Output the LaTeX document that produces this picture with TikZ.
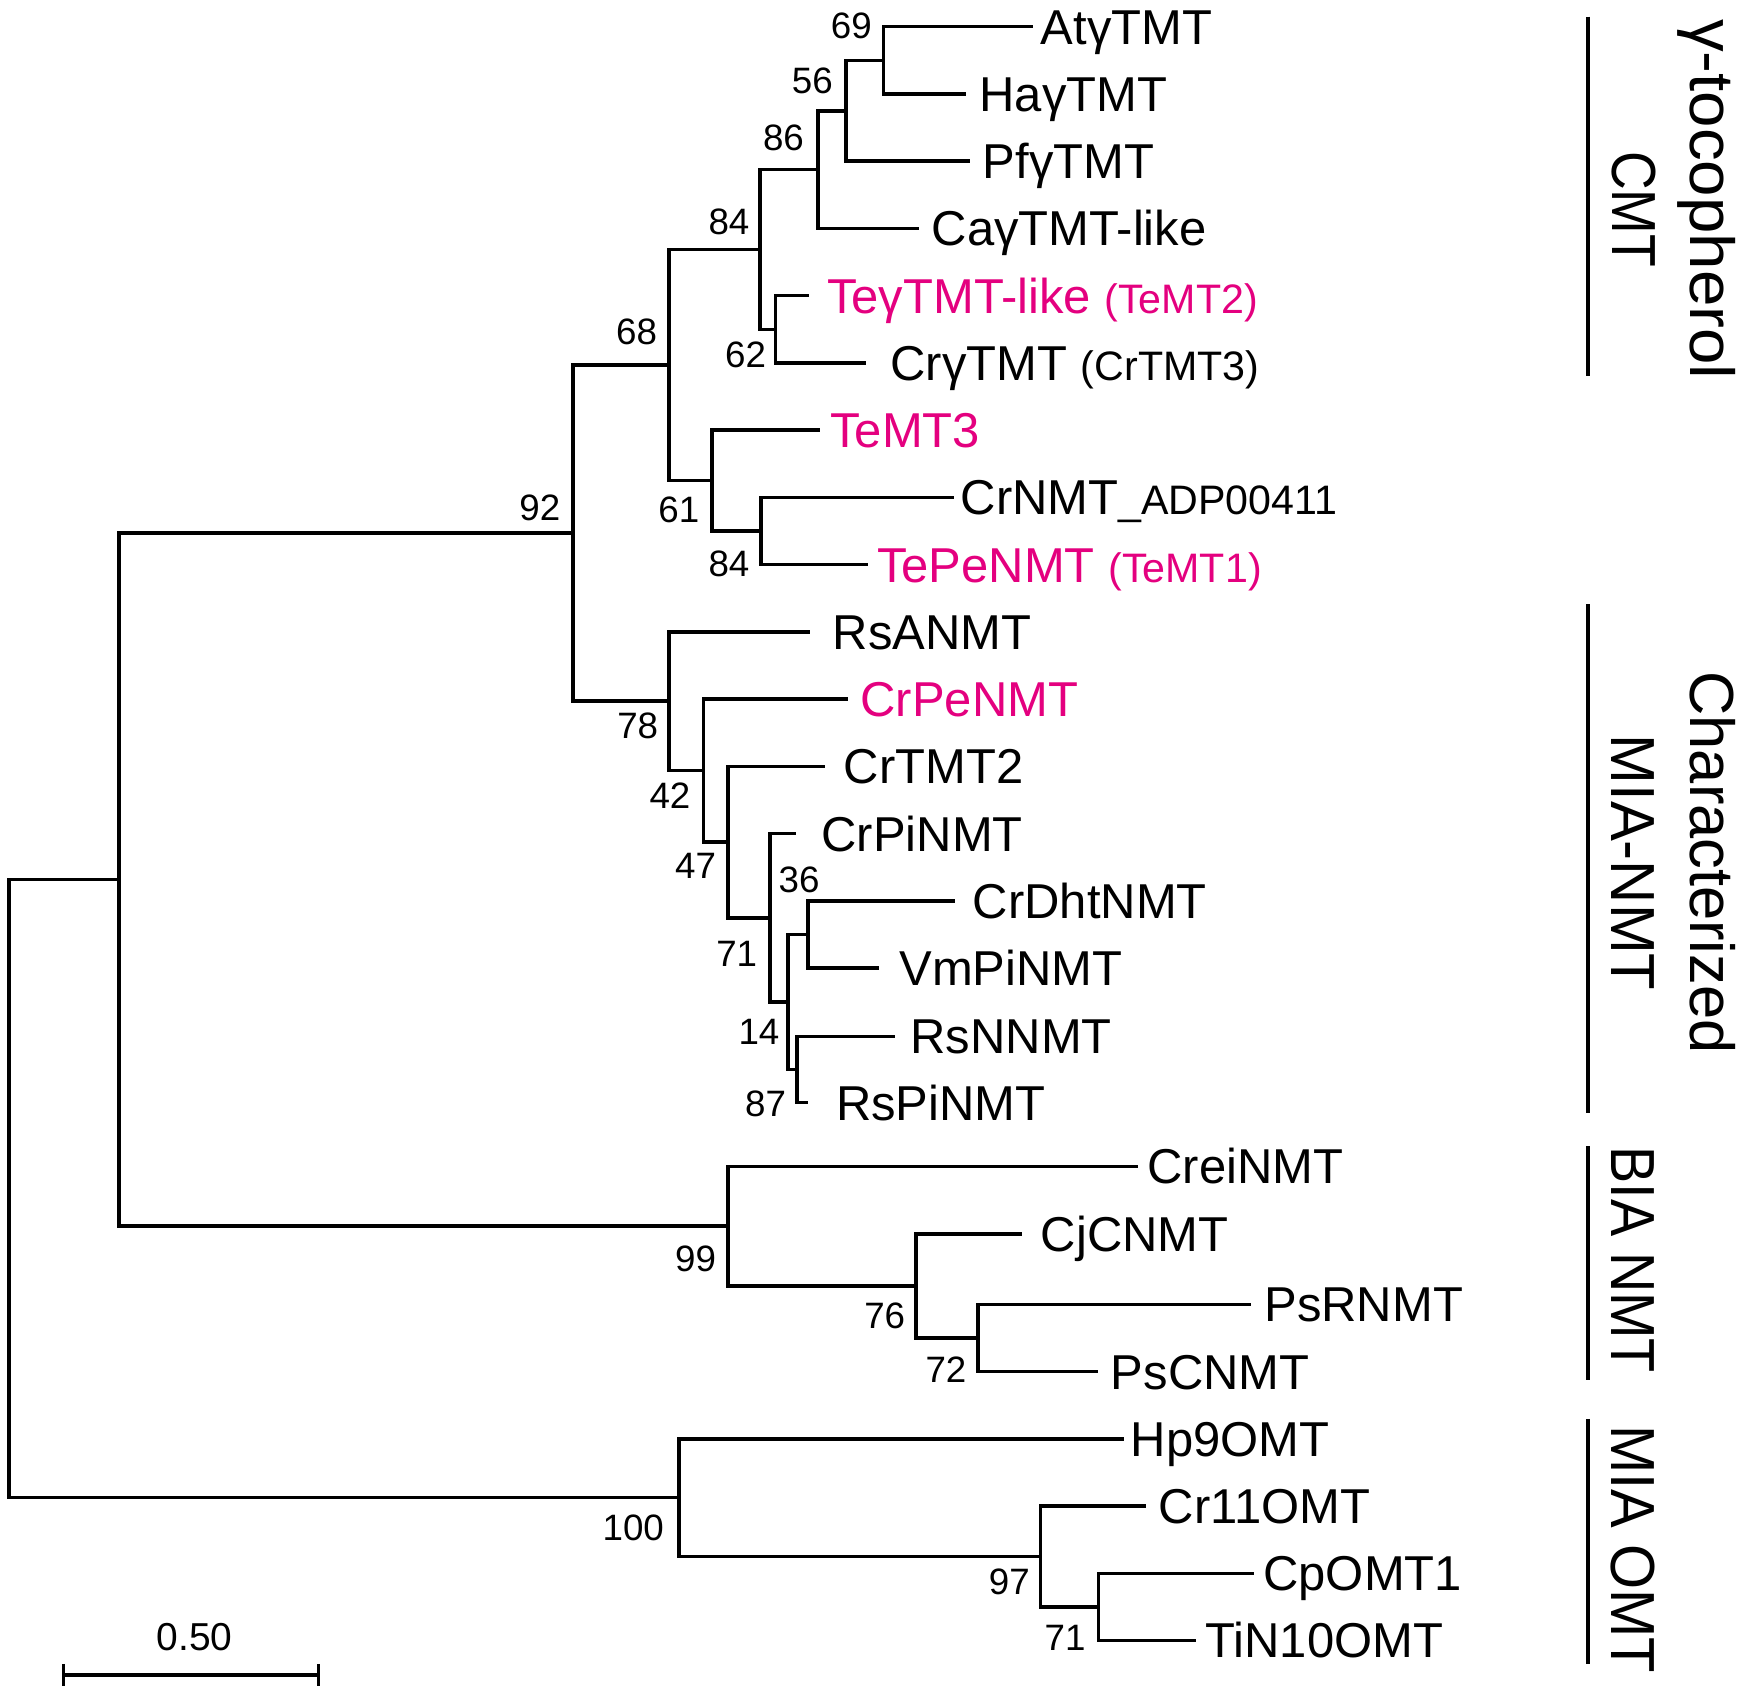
\documentclass[tikz,border=0pt]{standalone}
\usepackage{fontspec}
\setmainfont{Liberation Sans}
\usepackage{graphicx}
\definecolor{tepink}{RGB}{228,0,127}
\tikzset{
  br/.style={line width=3.2pt, line join=miter},
  leaf/.style={anchor=base west, inner sep=0pt, font=\fontsize{44}{50}\selectfont},
  pinkleaf/.style={leaf, text=tepink},
  bs/.style={anchor=center, inner sep=0pt, font=\fontsize{33}{38}\selectfont},
  grp/.style={rotate=-90, anchor=base, inner sep=0pt, font=\fontsize{56}{64}\selectfont},
  grpbar/.style={line width=3.2pt},
}
\newcommand{\smtxt}[1]{{\fontsize{37}{42}\selectfont #1}}
\begin{document}
\begin{tikzpicture}[x=1pt,y=-1pt]
\fill[white] (0,0) rectangle (1568,1520);
\useasboundingbox (0,0) rectangle (1568,1520);

% leaf tips
\coordinate (t1) at (928,24.0);
\coordinate (t2) at (868,84.4);
\coordinate (t3) at (872,144.8);
\coordinate (t4) at (826,205.3);
\coordinate (t5) at (727,265.7);
\coordinate (t6) at (778,326.1);
\coordinate (t7) at (737,386.5);
\coordinate (t8) at (857,446.9);
\coordinate (t9) at (780,507.4);
\coordinate (t10) at (728,567.8);
\coordinate (t11) at (762,628.2);
\coordinate (t12) at (741,688.6);
\coordinate (t13) at (715,749.0);
\coordinate (t14) at (858,809.5);
\coordinate (t15) at (790,869.9);
\coordinate (t16) at (804,931.3);
\coordinate (t17) at (726,990.7);
\coordinate (t18) at (1023,1048.1);
\coordinate (t19) at (918,1108.6);
\coordinate (t20) at (1124,1172.0);
\coordinate (t21) at (987,1232.4);
\coordinate (t22) at (1010,1292.8);
\coordinate (t23) at (1030,1353.2);
\coordinate (t24) at (1127,1413.7);
\coordinate (t25) at (1075,1474.1);

% internal nodes
\coordinate (n69) at (794,54.2);
\coordinate (n56) at (760,99.5);
\coordinate (n86) at (735,152.4);
\coordinate (n62) at (697,295.9);
\coordinate (n84) at (683,224.15);
\coordinate (n84b) at (684,477.15);
\coordinate (n61) at (640,431.8);
\coordinate (n68) at (601,328);
\coordinate (n87) at (716,961);
\coordinate (n36) at (726,839.7);
\coordinate (n14) at (708,900.3);
\coordinate (n71) at (692,824.65);
\coordinate (n47) at (654,756.6);
\coordinate (n42) at (632,692.4);
\coordinate (n78) at (601,630.1);
\coordinate (n92) at (515,479.05);
\coordinate (n72) at (879,1202.2);
\coordinate (n76) at (823,1155.4);
\coordinate (n99) at (654,1101.8);
\coordinate (nA) at (107,790.4);
\coordinate (n71b) at (987,1443.9);
\coordinate (n97) at (935,1398.55);
\coordinate (n100) at (610,1345.7);
\coordinate (root) at (8,1068.6);

% branches
\draw[br] (n69) |- (t1); \draw[br] (n69) |- (t2);
\draw[br] (n56) |- (n69); \draw[br] (n56) |- (t3);
\draw[br] (n86) |- (n56); \draw[br] (n86) |- (t4);
\draw[br] (n62) |- (t5); \draw[br] (n62) |- (t6);
\draw[br] (n84) |- (n86); \draw[br] (n84) |- (n62);
\draw[br] (n84b) |- (t8); \draw[br] (n84b) |- (t9);
\draw[br] (n61) |- (t7); \draw[br] (n61) |- (n84b);
\draw[br] (n68) |- (n84); \draw[br] (n68) |- (n61);
\draw[br] (n87) |- (t16); \draw[br] (n87) |- (t17);
\draw[br] (n36) |- (t14); \draw[br] (n36) |- (t15);
\draw[br] (n14) |- (n36); \draw[br] (n14) |- (n87);
\draw[br] (n71) |- (t13); \draw[br] (n71) |- (n14);
\draw[br] (n47) |- (t12); \draw[br] (n47) |- (n71);
\draw[br] (n42) |- (t11); \draw[br] (n42) |- (n47);
\draw[br] (n78) |- (t10); \draw[br] (n78) |- (n42);
\draw[br] (n92) |- (n68); \draw[br] (n92) |- (n78);
\draw[br] (n72) |- (t20); \draw[br] (n72) |- (t21);
\draw[br] (n76) |- (t19); \draw[br] (n76) |- (n72);
\draw[br] (n99) |- (t18); \draw[br] (n99) |- (n76);
\draw[br] (nA) |- (n92); \draw[br] (nA) |- (n99);
\draw[br] (n71b) |- (t24); \draw[br] (n71b) |- (t25);
\draw[br] (n97) |- (t23); \draw[br] (n97) |- (n71b);
\draw[br] (n100) |- (t22); \draw[br] (n100) |- (n97);
\draw[br] (root) |- (nA); \draw[br] (root) |- (n100);

% leaf labels
\node[leaf] (l1) at (935,39.7) {AtγTMT};
\node[leaf] (l2) at (880,100.1) {HaγTMT};
\node[leaf] (l3) at (883,160.5) {PfγTMT};
\node[leaf] (l4) at (837,221.0) {CaγTMT-like};
\node[pinkleaf] (l5) at (743,281.4) {TeγTMT-like \smtxt{(TeMT2)}};
\node[leaf] (l6) at (800,341.8) {CrγTMT \smtxt{(CrTMT3)}};
\node[pinkleaf] (l7) at (746,402.2) {TeMT3};
\node[leaf] (l8) at (863,462.6) {CrNMT\smtxt{\_ADP00411}};
\node[pinkleaf] (l9) at (788,523.1) {TePeNMT \smtxt{(TeMT1)}};
\node[leaf] (l10) at (748,583.5) {RsANMT};
\node[pinkleaf] (l11) at (773,643.9) {CrPeNMT};
\node[leaf] (l12) at (758,704.3) {CrTMT2};
\node[leaf] (l13) at (738,764.7) {CrPiNMT};
\node[leaf] (l14) at (874,825.2) {CrDhtNMT};
\node[leaf] (l15) at (808,885.6) {VmPiNMT};
\node[leaf] (l16) at (818,947.0) {RsNNMT};
\node[leaf] (l17) at (751,1006.4) {RsPiNMT};
\node[leaf] (l18) at (1031,1063.8) {CreiNMT};
\node[leaf] (l19) at (935,1124.3) {CjCNMT};
\node[leaf] (l20) at (1136,1187.7) {PsRNMT};
\node[leaf] (l21) at (998,1248.1) {PsCNMT};
\node[leaf] (l22) at (1016,1308.5) {Hp9OMT};
\node[leaf] (l23) at (1041,1368.9) {Cr11OMT};
\node[leaf] (l24) at (1135,1429.4) {CpOMT1};
\node[leaf] (l25) at (1083,1489.8) {TiN10OMT};

% bootstrap values
\node[bs] (b69) at (765,23) {69};
\node[bs] (b56) at (730,73) {56};
\node[bs] (b86) at (704,124) {86};
\node[bs] (b84) at (655,199) {84};
\node[bs] (b68) at (572,298) {68};
\node[bs] (b62) at (670,319) {62};
\node[bs] (b92) at (485,456) {92};
\node[bs] (b61) at (610,458) {61};
\node[bs] (b84b) at (655,507) {84};
\node[bs] (b78) at (573,652) {78};
\node[bs] (b42) at (602,715) {42};
\node[bs] (b47) at (625,778) {47};
\node[bs] (b36) at (718,791) {36};
\node[bs] (b71) at (662,857) {71};
\node[bs] (b14) at (682,927) {14};
\node[bs] (b87) at (688,992) {87};
\node[bs] (b99) at (625,1131) {99};
\node[bs] (b76) at (795,1182) {76};
\node[bs] (b72) at (850,1231) {72};
\node[bs] (b100) at (569,1373) {100};
\node[bs] (b97) at (907,1421) {97};
\node[bs] (b71b) at (957,1472) {71};

% scale bar
\coordinate (sbl) at (57,1505);
\coordinate (sbr) at (286,1505);
\coordinate (sblt) at (57,1495);
\coordinate (sblb) at (57,1515);
\coordinate (sbrt) at (286,1495);
\coordinate (sbrb) at (286,1515);
\draw[grpbar] (sbl) -- (sbr);
\draw[grpbar] (sblt) -- (sblb);
\draw[grpbar] (sbrt) -- (sbrb);
\node[anchor=center, inner sep=0pt, font=\fontsize{35}{40}\selectfont] (sbtxt) at (175,1471) {0.50};

% group bars
\coordinate (g1t) at (1427,15);   \coordinate (g1b) at (1427,338);
\coordinate (g2t) at (1427,543);  \coordinate (g2b) at (1427,1000);
\coordinate (g3t) at (1427,1030); \coordinate (g3b) at (1427,1240);
\coordinate (g4t) at (1427,1275); \coordinate (g4b) at (1427,1495);
\draw[grpbar] (g1t) -- (g1b);
\draw[grpbar] (g2t) -- (g2b);
\draw[grpbar] (g3t) -- (g3b);
\draw[grpbar] (g4t) -- (g4b);

% group labels
\node[grp] (gl1a) at (1519,179) {\scalebox{1.05}[1]{γ-tocopherol}};
\node[grp] (gl1b) at (1449,188) {\scalebox{0.86}[1]{CMT}};
\node[grp] (gl2a) at (1519,775) {\scalebox{0.985}[1]{Characterized}};
\node[grp] (gl2b) at (1448,775) {\scalebox{0.96}[1]{MIA-NMT}};
\node[grp] (gl3) at (1448,1132) {\scalebox{0.895}[1]{BIA NMT}};
\node[grp] (gl4) at (1448,1392) {\scalebox{0.93}[1]{MIA OMT}};
\end{tikzpicture}
\end{document}
